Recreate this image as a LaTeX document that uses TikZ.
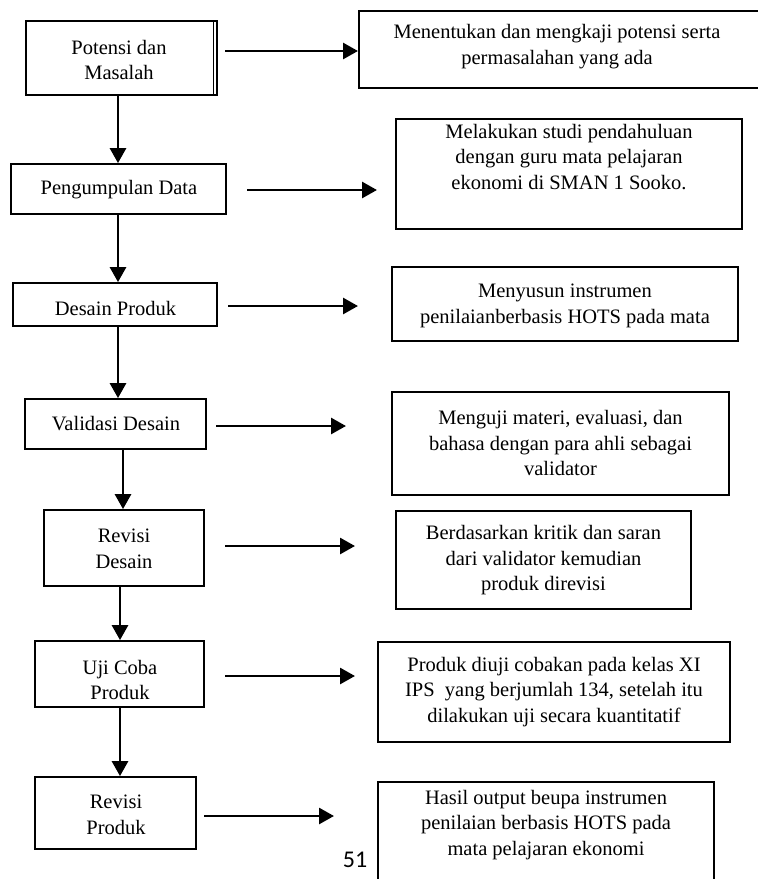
\documentclass[tikz,border=0pt]{standalone}
\usepackage{fontspec}
\setmainfont{Liberation Serif}
\newfontfamily\numfont{Carlito}
\usetikzlibrary{arrows.meta}
\begin{document}
\begin{tikzpicture}[x=1pt,y=-1pt,
  box/.style={draw,line width=1.8pt,inner sep=0pt},
  lbl/.style={align=center,font=\fontsize{20.5}{25.5}\selectfont,inner sep=0pt},
  arr/.style={line width=2.8pt,-{Triangle[length=15pt,width=16pt]}}]
\useasboundingbox (0,0) rectangle (758,879);
\clip (0,0) rectangle (758,879);
% left boxes
\node[box,minimum width=191pt,minimum height=74pt] (L1) at (121.5,58) {};
\node[box,minimum width=215pt,minimum height=50pt] (L2) at (118.5,189) {};
\node[box,minimum width=204pt,minimum height=43pt] (L3) at (115,304.5) {};
\node[box,minimum width=181pt,minimum height=50pt] (L4) at (115.5,424) {};
\node[box,minimum width=160pt,minimum height=76pt] (L5) at (124,548) {};
\node[box,minimum width=169pt,minimum height=66pt] (L6) at (119.5,674) {};
\node[box,minimum width=161pt,minimum height=72pt] (L7) at (115.5,813) {};
\draw[line width=1pt] ([xshift=-4.6pt]L1.north east) -- ([xshift=-4.6pt]L1.south east);
% left texts
\node[lbl] (T1) at (119,60) {Potensi dan\\Masalah};
\node[lbl] (T2) at (119,190) {Pengumpulan Data};
\node[lbl] (T3) at (115.5,308.5) {Desain Produk};
\node[lbl] (T4) at (116,424) {Validasi Desain};
\node[lbl] (T5) at (124,549) {Revisi\\Desain};
\node[lbl] (T6) at (120,680) {Uji Coba\\Produk};
\node[lbl] (T7) at (116,815) {Revisi\\Produk};
% right boxes
\node[box,minimum width=406pt,minimum height=77pt] (R1) at (562,49.5) {};
\node[box,minimum width=346pt,minimum height=110pt] (R2) at (569,174) {};
\node[box,minimum width=346pt,minimum height=74pt] (R3) at (565,304) {};
\node[box,minimum width=337pt,minimum height=103pt] (R4) at (560.5,443.5) {};
\node[box,minimum width=295pt,minimum height=98pt] (R5) at (543.5,560) {};
\node[box,minimum width=352pt,minimum height=100pt] (R6) at (554,692) {};
\node[box,minimum width=336pt,minimum height=113pt] (R7) at (546,838.5) {};
% right texts
\node[lbl] (RT1) at (557,46.5) {Menentukan dan mengkaji potensi serta\\permasalahan yang ada};
\node[lbl] (RT2) at (569,157) {Melakukan studi pendahuluan\\dengan guru mata pelajaran\\ekonomi di SMAN 1 Sooko.};
\node[lbl] (RT3) at (565,306) {Menyusun instrumen\\penilaianberbasis HOTS pada mata};
\node[lbl] (RT4) at (560.5,443) {Menguji materi, evaluasi, dan\\bahasa dengan para ahli sebagai\\validator};
\node[lbl] (RT5) at (543.5,560.5) {Berdasarkan kritik dan saran\\dari validator kemudian\\produk direvisi};
\node[lbl] (RT6) at (554,692) {Produk diuji cobakan pada kelas XI\\IPS\ \ yang berjumlah 134, setelah itu\\dilakukan uji secara kuantitatif};
\node[lbl] (RT7) at (546,825) {Hasil output beupa instrumen\\penilaian berbasis HOTS pada\\mata pelajaran ekonomi};
% page number
\node[inner sep=0pt,font=\numfont\fontsize{24}{28}\selectfont] (pg) at (355,859.5) {51};
% vertical arrows
\coordinate (vA) at (118,0);
\coordinate (vB) at (123,0);
\coordinate (vC) at (120,0);
\draw[arr] (L1.south -| vA) -- (L2.north -| vA);
\draw[arr] (L2.south -| vA) -- (L3.north -| vA);
\draw[arr] (L3.south -| vA) -- (L4.north -| vA);
\draw[arr] (L4.south -| vB) -- (L5.north -| vB);
\draw[arr] (L5.south -| vC) -- (L6.north -| vC);
\draw[arr] (L6.south -| vC) -- (L7.north -| vC);
% horizontal arrows
\coordinate (h1s) at (225,51);  \coordinate (h1e) at (358,51);
\coordinate (h2s) at (247,190); \coordinate (h2e) at (377,190);
\coordinate (h3s) at (228,306); \coordinate (h3e) at (358,306);
\coordinate (h4s) at (216,426); \coordinate (h4e) at (346,426);
\coordinate (h5s) at (225,546); \coordinate (h5e) at (355,546);
\coordinate (h6s) at (225,676); \coordinate (h6e) at (355,676);
\coordinate (h7s) at (204,816); \coordinate (h7e) at (334,816);
\draw[arr] (h1s) -- (h1e);
\draw[arr] (h2s) -- (h2e);
\draw[arr] (h3s) -- (h3e);
\draw[arr] (h4s) -- (h4e);
\draw[arr] (h5s) -- (h5e);
\draw[arr] (h6s) -- (h6e);
\draw[arr] (h7s) -- (h7e);
\end{tikzpicture}
\end{document}
